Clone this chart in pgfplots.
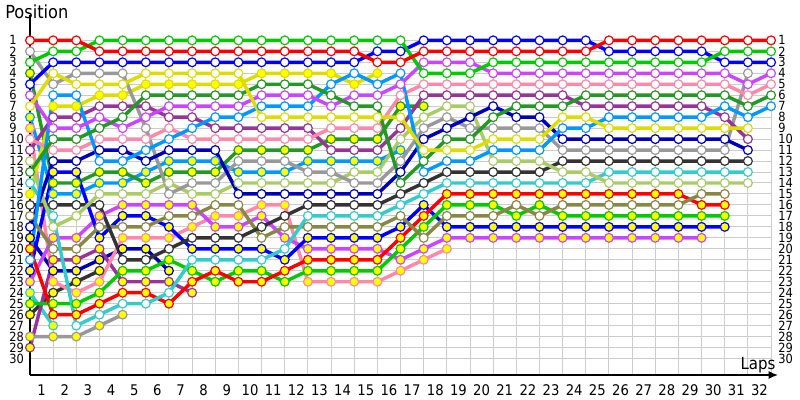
\documentclass[border=0pt]{standalone}
\usepackage{fontspec}
\setmainfont{DejaVu Sans}[FakeStretch=0.9]
\usepackage{pgfplots}
\pgfplotsset{compat=1.18}
\usetikzlibrary{arrows.meta}
\definecolor{cR}{HTML}{FF0000}
\definecolor{cG}{HTML}{00CC00}
\definecolor{cB}{HTML}{0000FF}
\definecolor{cY}{HTML}{DDDD00}
\definecolor{cDG}{HTML}{229922}
\definecolor{cM}{HTML}{CC44FF}
\definecolor{cLB}{HTML}{0099FF}
\definecolor{cPK}{HTML}{FF88AA}
\definecolor{cPU}{HTML}{993399}
\definecolor{cDB}{HTML}{0000BB}
\definecolor{cGR}{HTML}{999999}
\definecolor{cLO}{HTML}{AACC66}
\definecolor{cDK}{HTML}{333333}
\definecolor{cCY}{HTML}{33CCCC}
\definecolor{cOL}{HTML}{888844}
\definecolor{fY}{HTML}{FFFF00}
\definecolor{gridc}{HTML}{CCCCCC}
\pgfplotsset{drv/.style 2 args={color=#1, line width=2.6pt, mark=*, mark size=3.3pt, mark options={draw=#1, fill=#2, line width=0.9pt, solid}}}
\begin{document}
\begin{tikzpicture}
\path[use as bounding box] (-22.5pt,-18.75pt) rectangle (577.5pt,281.25pt);
\begin{axis}[
  at={(0,0)}, anchor=south west, scale only axis,
  width=555.8pt, height=255.1pt,
  xmin=0, xmax=32, ymin=0.5, ymax=31.5, y dir=reverse,
  xtick={1,...,32}, ytick={1,...,30},
  xticklabels={}, yticklabels={},
  major tick length=0pt, tick style={draw=none},
  axis line style={draw=none},
  grid=major, grid style={draw=gridc, line width=0.75pt},
  clip=false,
]
% team B (yellow-filled)
\addplot[drv={cCY}{fY}] coordinates {(0,24)(1,27)};
\addplot[drv={cDK}{fY}] coordinates {(0,26)(1,24)(2,23)(3,22)};
\addplot[drv={cGR}{fY}] coordinates {(0,28)(1,28)(2,28)(3,27)(4,26)};
\addplot[drv={cDB}{fY}] coordinates {(0,19)(1,22)(2,22)(3,21)(4,20)(5,20)(6,22)};
\addplot[drv={cPU}{fY}] coordinates {(0,29)(1,21)(2,21)(3,20)(4,23)(5,23)(6,23)(7,24)};
\addplot[drv={cPK}{fY}] coordinates {(0,9)(1,23)(2,24)(3,23)(4,19)(5,19)(6,19)(7,18)(8,17)(9,17)(10,16)(11,16)(12,23)(13,23)(14,23)(15,23)(16,22)(17,21)(18,20)};
\addplot[drv={cLB}{fY}] coordinates {(0,8)(1,15)(2,15)(3,14)(4,14)(5,13)(6,12)(7,12)(8,12)(9,13)(10,13)(11,13)(12,12)(13,12)(14,12)(15,12)(16,11)};
\addplot[drv={cM}{fY}] coordinates {(0,23)(1,19)(2,19)(3,17)(4,16)(5,16)(6,16)(7,16)(8,18)(9,18)(10,17)(11,19)(12,20)(13,20)(14,20)(15,20)(16,21)(17,20)(18,19)(19,19)(20,19)(21,19)(22,19)(23,19)(24,19)(25,19)(26,19)(27,19)(28,19)(29,19)};
\addplot[drv={cDG}{fY}] coordinates {(0,4)(1,14)(2,14)(3,13)(4,13)(5,14)(6,13)(7,13)(8,13)(9,11)(10,11)(11,11)(12,11)(13,10)(14,10)(15,10)(16,7)(17,7)};
\addplot[drv={cY}{fY}] coordinates {(0,15)(1,7)(2,7)(3,6)(4,6)(5,5)(6,5)(7,5)(8,5)(9,5)(10,4)(11,4)(12,4)(13,4)(14,5)(15,4)};
\addplot[drv={cB}{fY}] coordinates {(0,22)(1,13)(2,13)(3,19)(4,17)(5,17)(6,18)(7,20)(8,20)(9,20)(10,20)(11,21)(12,19)(13,19)(14,19)(15,19)(16,18)(17,16)(18,18)(19,18)(20,18)(21,18)(22,18)(23,18)(24,18)(25,18)(26,18)(27,18)(28,18)(29,18)(30,18)};
\addplot[drv={cG}{fY}] coordinates {(0,25)(1,25)(2,25)(3,24)(4,22)(5,22)(6,21)(7,22)(8,23)(9,22)(10,22)(11,23)(12,22)(13,22)(14,22)(15,22)(16,20)(17,18)(18,16)(19,16)(20,16)(21,17)(22,16)(23,17)(24,17)(25,17)(26,17)(27,17)(28,17)(29,17)(30,17)};
\addplot[drv={cR}{fY}] coordinates {(0,20)(1,26)(2,26)(3,25)(4,24)(5,24)(6,25)(7,23)(8,22)(9,23)(10,23)(11,22)(12,21)(13,21)(14,21)(15,21)(16,19)(17,17)(18,15)(19,15)(20,15)(21,15)(22,15)(23,15)(24,15)(25,15)(26,15)(27,15)(28,15)(29,16)(30,16)};
% team A (white-filled)
\addplot[drv={cOL}{white}] coordinates {(0,17)(1,20)(2,20)(3,18)(4,18)(5,18)(6,17)(7,17)(8,16)(9,16)(10,19)(11,18)(12,18)(13,18)(14,18)(15,18)(16,17)(17,19)(18,17)(19,17)(20,17)(21,16)(22,17)(23,16)(24,16)(25,16)(26,16)(27,16)(28,16)(29,15)(30,15)};
\addplot[drv={cCY}{white}] coordinates {(0,14)(1,17)(2,27)(3,26)(4,25)(5,25)(6,24)(7,21)(8,21)(9,21)(10,21)(11,20)(12,17)(13,17)(14,17)(15,17)(16,16)(17,15)(18,14)(19,14)(20,14)(21,14)(22,14)(23,14)(24,14)(25,13)(26,13)(27,13)(28,13)(29,13)(30,13)(31,13)};
\addplot[drv={cDK}{white}] coordinates {(0,16)(1,16)(2,16)(3,16)(4,21)(5,21)(6,20)(7,19)(8,19)(9,19)(10,18)(11,17)(12,16)(13,16)(14,16)(15,16)(16,15)(17,14)(18,13)(19,13)(20,13)(21,13)(22,13)(23,12)(24,12)(25,12)(26,12)(27,12)(28,12)(29,12)(30,12)(31,12)};
\addplot[drv={cLO}{white}] coordinates {(0,12)(1,18)(2,17)(3,15)(4,15)(5,15)(6,14)(7,15)(8,15)(9,14)(10,14)(11,14)(12,14)(13,14)(14,13)(15,13)(16,10)(17,8)(18,7)(19,7)(20,12)(21,12)(22,12)(23,13)(24,13)(25,14)(26,14)(27,14)(28,14)(29,14)(30,14)(31,14)};
\addplot[drv={cGR}{white}] coordinates {(0,2)(1,5)(2,4)(3,4)(4,4)(5,9)(6,15)(7,14)(8,14)(9,12)(10,12)(11,12)(12,13)(13,13)(14,14)(15,14)(16,12)(17,9)(18,8)(19,9)(20,9)(21,9)(22,9)(23,11)(24,11)(25,11)(26,11)(27,11)(28,11)(29,11)(30,11)(31,4)};
\addplot[drv={cDB}{white}] coordinates {(0,18)(1,12)(2,12)(3,11)(4,11)(5,12)(6,11)(7,11)(8,11)(9,15)(10,15)(11,15)(12,15)(13,15)(14,15)(15,15)(16,13)(17,10)(18,9)(19,8)(20,7)(21,8)(22,8)(23,10)(24,10)(25,10)(26,10)(27,10)(28,10)(29,10)(30,10)(31,11)};
\addplot[drv={cPU}{white}] coordinates {(0,11)(1,8)(2,8)(3,7)(4,7)(5,7)(6,8)(7,8)(8,9)(9,9)(10,9)(11,9)(12,9)(13,11)(14,11)(15,11)(16,9)(17,6)(18,6)(19,6)(20,6)(21,6)(22,6)(23,6)(24,7)(25,7)(26,7)(27,7)(28,7)(29,7)(30,8)(31,10)};
\addplot[drv={cPK}{white}] coordinates {(0,10)(1,11)(2,11)(3,10)(4,10)(5,10)(6,9)(7,10)(8,10)(9,10)(10,10)(11,10)(12,10)(13,9)(14,9)(15,9)(16,6)(17,5)(18,5)(19,5)(20,5)(21,5)(22,5)(23,5)(24,5)(25,5)(26,5)(27,5)(28,5)(29,5)(30,5)(31,6)(32,5)};
\addplot[drv={cLB}{white}] coordinates {(0,21)(1,6)(2,6)(3,12)(4,12)(5,11)(6,10)(7,9)(8,8)(9,8)(10,7)(11,7)(12,7)(13,5)(14,4)(15,5)(16,4)(17,13)(18,12)(19,12)(20,11)(21,11)(22,11)(23,9)(24,9)(25,8)(26,8)(27,8)(28,8)(29,8)(30,7)(31,8)(32,7)};
\addplot[drv={cM}{white}] coordinates {(0,6)(1,9)(2,9)(3,8)(4,9)(5,8)(6,7)(7,7)(8,7)(9,7)(10,6)(11,6)(12,6)(13,7)(14,6)(15,6)(16,5)(17,3)(18,3)(19,3)(20,4)(21,4)(22,4)(23,4)(24,4)(25,4)(26,4)(27,4)(28,4)(29,4)(30,4)(31,5)(32,4)};
\addplot[drv={cDG}{white}] coordinates {(0,13)(1,10)(2,10)(3,9)(4,8)(5,6)(6,6)(7,6)(8,6)(9,6)(10,5)(11,5)(12,5)(13,6)(14,7)(15,7)(16,14)(17,12)(18,10)(19,10)(20,8)(21,7)(22,7)(23,7)(24,6)(25,6)(26,6)(27,6)(28,6)(29,6)(30,6)(31,7)(32,6)};
\addplot[drv={cY}{white}] coordinates {(0,7)(1,4)(2,5)(3,5)(4,5)(5,4)(6,4)(7,4)(8,4)(9,4)(10,8)(11,8)(12,8)(13,8)(14,8)(15,8)(16,8)(17,11)(18,11)(19,11)(20,10)(21,10)(22,10)(23,8)(24,8)(25,9)(26,9)(27,9)(28,9)(29,9)(30,9)(31,9)};
\addplot[drv={cB}{white}] coordinates {(0,5)(1,3)(2,3)(3,3)(4,3)(5,3)(6,3)(7,3)(8,3)(9,3)(10,3)(11,3)(12,3)(13,3)(14,3)(15,2)(16,2)(17,1)(18,1)(19,1)(20,1)(21,1)(22,1)(23,1)(24,1)(25,2)(26,2)(27,2)(28,2)(29,2)(30,3)(31,3)(32,3)};
\addplot[drv={cG}{white}] coordinates {(0,3)(1,2)(2,2)(3,1)(4,1)(5,1)(6,1)(7,1)(8,1)(9,1)(10,1)(11,1)(12,1)(13,1)(14,1)(15,1)(16,1)(17,4)(18,4)(19,4)(20,3)(21,3)(22,3)(23,3)(24,3)(25,3)(26,3)(27,3)(28,3)(29,3)(30,2)(31,2)(32,2)};
\addplot[drv={cR}{white}] coordinates {(0,1)(1,1)(2,1)(3,2)(4,2)(5,2)(6,2)(7,2)(8,2)(9,2)(10,2)(11,2)(12,2)(13,2)(14,2)(15,3)(16,3)(17,2)(18,2)(19,2)(20,2)(21,2)(22,2)(23,2)(24,2)(25,1)(26,1)(27,1)(28,1)(29,1)(30,1)(31,1)(32,1)};
% axes
\draw[line width=1.1pt] (axis cs:0,31.5) -- (axis cs:0,-1.3);
\draw[line width=1.1pt, -{Latex[length=7pt,width=6pt]}] (axis cs:0,31.5) -- (axis cs:32.3,31.5);
\pgfplotsinvokeforeach{1,...,30}{
  \node[anchor=west, inner sep=0pt, font=\fontsize{9.5}{9.5}\selectfont] at (axis cs:-0.9,#1) {#1};
  \node[anchor=west, inner sep=0pt, font=\fontsize{9.5}{9.5}\selectfont] at (axis cs:32.3,#1) {#1};
}
\pgfplotsinvokeforeach{1,...,32}{
  \node[inner sep=0pt, font=\fontsize{11}{11}\selectfont] at (axis cs:{#1-0.5},32.85) {#1};
}
\node[anchor=north west, inner sep=0pt, font=\fontsize{13.5}{13.5}\selectfont] at (axis cs:-1.08,-2.25) {Position};
\node[anchor=south east, inner sep=0pt, font=\fontsize{12.5}{12.5}\selectfont] at (axis cs:32.2,31.35) {Laps};
\end{axis}
\end{tikzpicture}
\end{document}
